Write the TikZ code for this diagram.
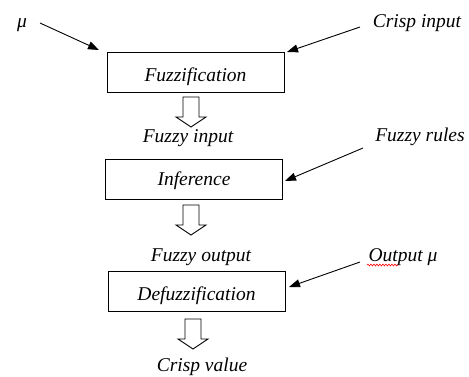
\documentclass[tikz,border=0pt]{standalone}
\usepackage{fontspec}
\setmainfont{Liberation Serif}
\usetikzlibrary{arrows.meta,decorations.pathmorphing}
\tikzset{
  lbl/.style={font=\fontsize{19.5}{22}\selectfont\itshape, inner sep=0pt, anchor=base},
  stagebox/.style={draw, line width=0.9pt, minimum width=177pt, minimum height=40pt, inner sep=0pt, text depth=0pt, font=\fontsize{19.5}{22}\selectfont\itshape},
  inarrow/.style={draw, line width=0.9pt, -{Triangle[length=11pt,width=8pt]}},
  hollow/.style={draw, line width=0.9pt, fill=white, line join=miter}
}
\newcommand{\hollowdown}[2]{% x, top y
  \draw[hollow] (#1-8,#2) -- (#1+8,#2) -- (#1+8,#2+20) -- (#1+15,#2+20) -- (#1,#2+30) -- (#1-15,#2+20) -- (#1-8,#2+20) -- cycle;
}
\begin{document}
\begin{tikzpicture}[x=1pt,y=-1pt]
\useasboundingbox (0,0) rectangle (469,376);
% stages
\node[stagebox, text height=19pt] (fuz) at (195.5,72) {Fuzzification};
\node[stagebox, text height=13pt] (inf) at (194,179) {Inference};
\node[stagebox, text height=17pt] (def) at (196.5,291.5) {Defuzzification};
% labels
\node[lbl] (mu) at (22,27) {μ};
\node[lbl] (crisp) at (417,27) {Crisp input};
\node[lbl] (fin) at (188,142) {Fuzzy input};
\node[lbl] (rules) at (420,141) {Fuzzy rules};
\node[lbl] (fout) at (201,261) {Fuzzy output};
\node[lbl] (outmu) at (403,261) {Output μ};
\node[lbl] (cval) at (202,371) {Crisp value};
% spell-check squiggle
\draw[red, line width=0.6pt, decorate, decoration={snake, amplitude=0.9pt, segment length=3pt}] (367,265) -- (398,265);
% hollow arrows
\hollowdown{191}{97}
\hollowdown{191}{205}
\hollowdown{193}{319}
% input arrows
\coordinate (s1) at (40,23);   \coordinate (e1) at (99,50);
\coordinate (s2) at (360,27);  \coordinate (e2) at (287,52);
\coordinate (s3) at (363,148); \coordinate (e3) at (285,181);
\coordinate (s4) at (360,262); \coordinate (e4) at (289,287);
\draw[inarrow] (s1) -- (e1);
\draw[inarrow] (s2) -- (e2);
\draw[inarrow] (s3) -- (e3);
\draw[inarrow] (s4) -- (e4);
\end{tikzpicture}
\end{document}
